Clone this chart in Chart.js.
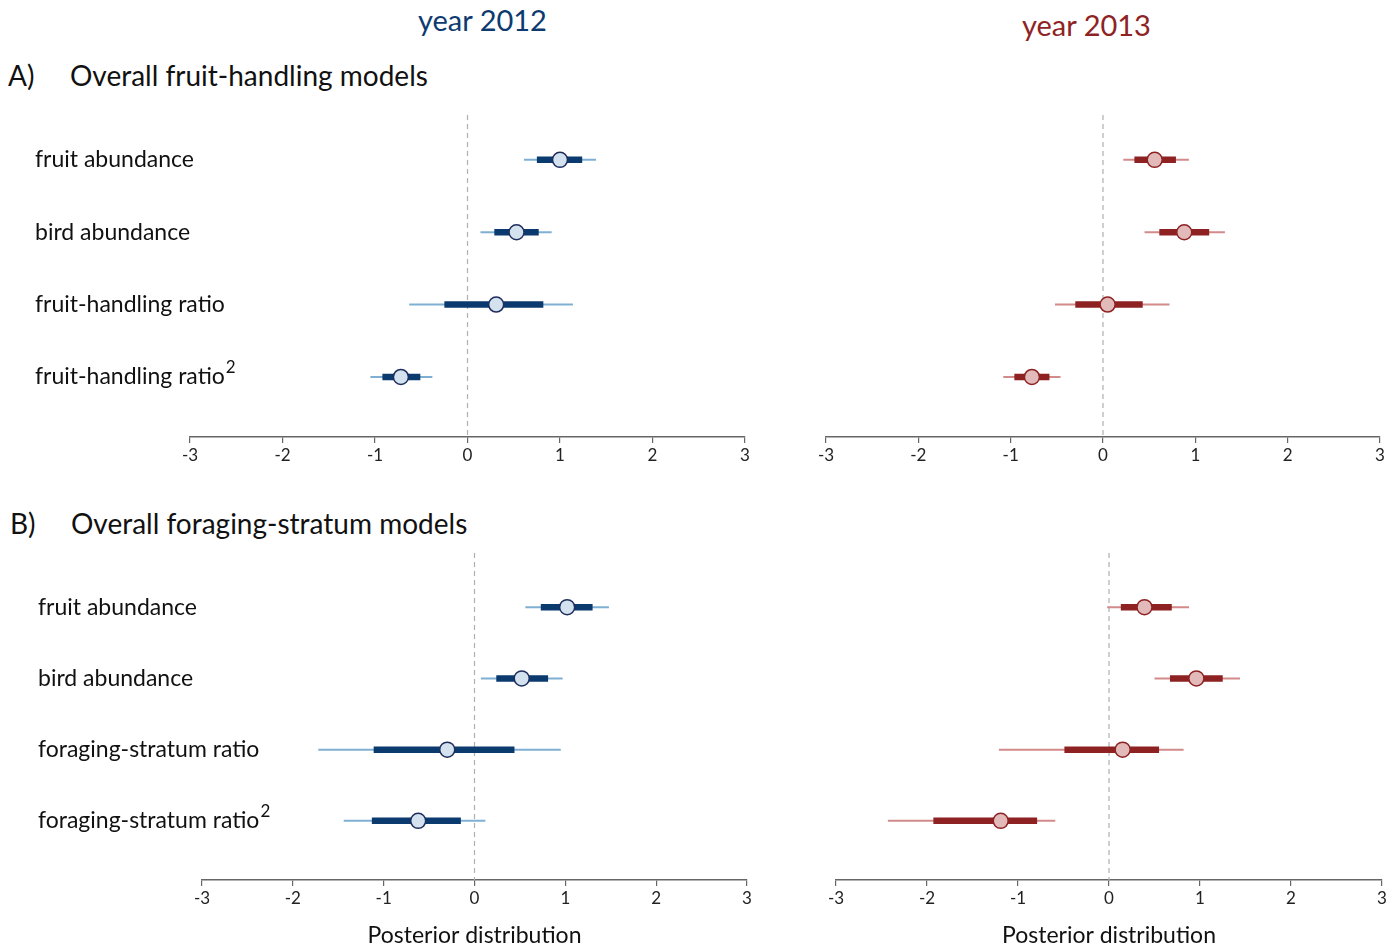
<!DOCTYPE html>
<html>
<head>
<meta charset="utf-8">
<script src="https://cdn.jsdelivr.net/npm/chart.js@4.4.1/dist/chart.umd.min.js"></script>
<style>
  body { margin: 0; background: #fff; font-family: Lato, "Open Sans", sans-serif; }
  #page { position: relative; width: 1400px; height: 951px; overflow: hidden; }
  .txt { position: absolute; white-space: nowrap; line-height: 1; }
  .panel { position: absolute; }
</style>
</head>
<body>
<div id="page">
  <div class="txt" style="left:418px; top:5px; font-size:29px; color:#0d3b70;">year 2012</div>
  <div class="txt" style="left:1022px; top:10px; font-size:29px; color:#8e2323;">year 2013</div>
  <div class="txt" style="left:8px; top:61px; font-size:28px; color:#111;">A)</div>
  <div class="txt" style="left:70px; top:61px; font-size:28px; color:#111;">Overall fruit-handling models</div>
  <div class="txt" style="left:10px; top:509px; font-size:28px; color:#111;">B)</div>
  <div class="txt" style="left:71px; top:509px; font-size:28px; color:#111;">Overall foraging-stratum models</div>

  <div class="panel" style="left:0px; top:100px; width:760px; height:380px;"><canvas id="a2012"></canvas></div>
  <div class="panel" style="left:780px; top:100px; width:620px; height:380px;"><canvas id="a2013"></canvas></div>
  <div class="panel" style="left:0px; top:540px; width:760px; height:411px;"><canvas id="b2012"></canvas></div>
  <div class="panel" style="left:780px; top:540px; width:620px; height:411px;"><canvas id="b2013"></canvas></div>
</div>

<script>
// row labels (a trailing "^2" is drawn as a superscript)
const rowsA = ['fruit abundance', 'bird abundance', 'fruit-handling ratio', 'fruit-handling ratio^2'];
const rowsB = ['fruit abundance', 'bird abundance', 'foraging-stratum ratio', 'foraging-stratum ratio^2'];
const xTicks = [-3, -2, -1, 0, 1, 2, 3];

// A) fruit-handling, 2012
const a12Median = [1.00, 0.53, 0.31, -0.72];
const a12Lo95 = [0.61, 0.14, -0.63, -1.05];
const a12Hi95 = [1.39, 0.91, 1.14, -0.38];
const a12Lo50 = [0.75, 0.29, -0.25, -0.92];
const a12Hi50 = [1.24, 0.77, 0.82, -0.51];

// A) fruit-handling, 2013
const a13Median = [0.56, 0.88, 0.05, -0.77];
const a13Lo95 = [0.22, 0.45, -0.52, -1.08];
const a13Hi95 = [0.93, 1.32, 0.72, -0.46];
const a13Lo50 = [0.34, 0.61, -0.30, -0.96];
const a13Hi50 = [0.79, 1.15, 0.43, -0.58];

// B) foraging-stratum, 2012
const b12Median = [1.02, 0.52, -0.30, -0.62];
const b12Lo95 = [0.56, 0.07, -1.72, -1.44];
const b12Hi95 = [1.48, 0.97, 0.95, 0.12];
const b12Lo50 = [0.73, 0.24, -1.11, -1.13];
const b12Hi50 = [1.30, 0.81, 0.44, -0.15];

// B) foraging-stratum, 2013
const b13Median = [0.39, 0.96, 0.15, -1.19];
const b13Lo95 = [-0.02, 0.50, -1.21, -2.43];
const b13Hi95 = [0.88, 1.44, 0.82, -0.59];
const b13Lo50 = [0.13, 0.67, -0.49, -1.93];
const b13Hi50 = [0.69, 1.25, 0.55, -0.79];

const blue = { thin: '#7fb0d3', thick: '#0a3a6e', fill: '#d3e2ee', edge: '#1e2d5c' };
const red = { thin: '#d28a8a', thick: '#8e2222', fill: '#e2baba', edge: '#8e2222' };

// dashed line at zero, drawn from the x scale
const zeroLine = {
  id: 'zeroLine',
  beforeDatasetsDraw(chart) {
    const { ctx, chartArea, scales } = chart;
    const x = scales.x.getPixelForValue(0);
    ctx.save();
    ctx.strokeStyle = '#b0b0b0';
    ctx.lineWidth = 1.2;
    ctx.setLineDash([5, 4]);
    ctx.beginPath();
    ctx.moveTo(x, chartArea.top);
    ctx.lineTo(x, chartArea.bottom);
    ctx.stroke();
    ctx.restore();
  }
};

// row names on the left, placed with the y scale
const rowLabels = {
  id: 'rowLabels',
  afterDraw(chart, args, opts) {
    if (!opts.rows) return;
    const { ctx, scales } = chart;
    ctx.save();
    ctx.fillStyle = '#111';
    ctx.textBaseline = 'middle';
    ctx.textAlign = 'left';
    opts.rows.forEach((label, i) => {
      const y = scales.y.getPixelForValue(i);
      let text = label, sup = null;
      if (label.endsWith('^2')) { text = label.slice(0, -2); sup = '2'; }
      ctx.font = '23px Lato';
      ctx.fillText(text, opts.left, y);
      if (sup) {
        const w = ctx.measureText(text).width;
        ctx.font = '17px Lato';
        ctx.fillText(sup, opts.left + w + 1, y - 9);
      }
    });
    ctx.restore();
  }
};

function makePanel(id, opt) {
  const datasets = [];
  // median points on top
  datasets.push({
    type: 'scatter',
    data: opt.median.map((v, i) => ({ x: v, y: i })),
    pointRadius: 7.5,
    pointBackgroundColor: opt.col.fill,
    pointBorderColor: opt.col.edge,
    pointBorderWidth: 1.5,
    order: 0
  });
  opt.median.forEach((_, i) => {
    datasets.push({
      type: 'line',
      data: [{ x: opt.lo50[i], y: i }, { x: opt.hi50[i], y: i }],
      borderColor: opt.col.thick,
      borderWidth: 6.5,
      borderCapStyle: 'butt',
      pointRadius: 0,
      order: 1
    });
    datasets.push({
      type: 'line',
      data: [{ x: opt.lo95[i], y: i }, { x: opt.hi95[i], y: i }],
      borderColor: opt.col.thin,
      borderWidth: 2,
      borderCapStyle: 'butt',
      pointRadius: 0,
      order: 2
    });
  });

  new Chart(document.getElementById(id), {
    data: { datasets },
    plugins: [zeroLine, rowLabels],
    options: {
      responsive: true,
      maintainAspectRatio: false,
      animation: false,
      events: [],
      layout: { padding: opt.padding },
      plugins: {
        legend: { display: false },
        tooltip: { enabled: false },
        rowLabels: { rows: opt.rows, left: opt.labelLeft }
      },
      scales: {
        x: {
          type: 'linear',
          min: -3,
          max: 3,
          afterBuildTicks: axis => { axis.ticks = xTicks.map(v => ({ value: v })); },
          afterFit: axis => { axis.height = opt.xHeight; },
          grid: { drawOnChartArea: false, drawTicks: true, tickLength: 6, color: '#666', lineWidth: 1.2 },
          border: { display: true, color: '#666', width: 1.5 },
          ticks: { color: '#222', font: { family: 'Lato', size: 17 }, padding: 2, maxRotation: 0 },
          title: {
            display: !!opt.xTitle,
            text: opt.xTitle || '',
            color: '#111',
            font: { family: 'Lato', size: 23 },
            padding: { top: 4, bottom: 2 }
          }
        },
        y: {
          type: 'linear',
          reverse: true,
          min: opt.yMin,
          max: opt.yMax,
          display: false
        }
      }
    }
  });
}

makePanel('a2012', {
  rows: rowsA, labelLeft: 35, col: blue,
  median: a12Median, lo95: a12Lo95, hi95: a12Hi95, lo50: a12Lo50, hi50: a12Hi50,
  padding: { left: 190, right: 15, top: 15, bottom: 0 }, xHeight: 43,
  yMin: -0.62, yMax: 3.83
});
makePanel('a2013', {
  rows: null, col: red,
  median: a13Median, lo95: a13Lo95, hi95: a13Hi95, lo50: a13Lo50, hi50: a13Hi50,
  padding: { left: 46, right: 20, top: 15, bottom: 0 }, xHeight: 43,
  yMin: -0.62, yMax: 3.83
});
makePanel('b2012', {
  rows: rowsB, labelLeft: 38, col: blue, xTitle: 'Posterior distribution',
  median: b12Median, lo95: b12Lo95, hi95: b12Hi95, lo50: b12Lo50, hi50: b12Hi50,
  padding: { left: 202, right: 13, top: 13, bottom: 0 }, xHeight: 71,
  yMin: -0.76, yMax: 3.83
});
makePanel('b2013', {
  rows: null, col: red, xTitle: 'Posterior distribution',
  median: b13Median, lo95: b13Lo95, hi95: b13Hi95, lo50: b13Lo50, hi50: b13Hi50,
  padding: { left: 56, right: 18, top: 13, bottom: 0 }, xHeight: 71,
  yMin: -0.76, yMax: 3.83
});
</script>
</body>
</html>
